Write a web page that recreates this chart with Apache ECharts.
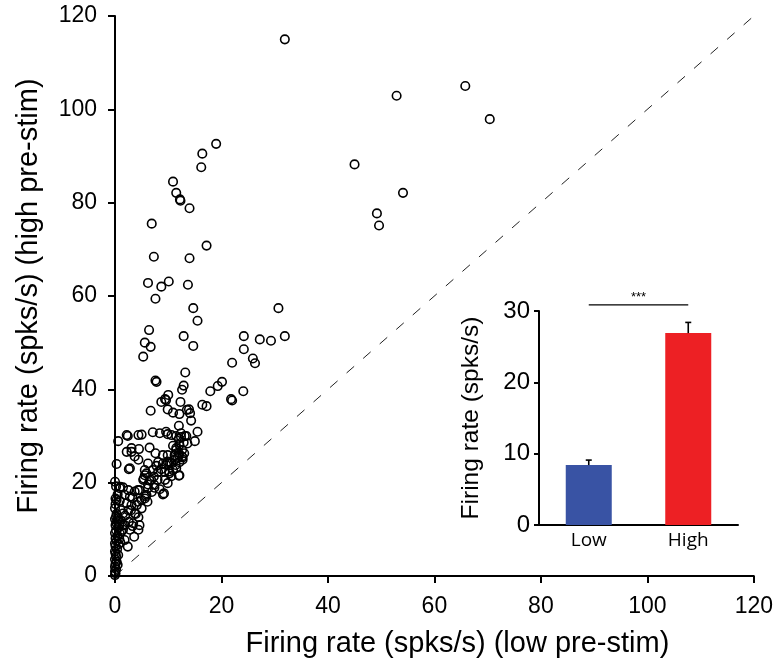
<!DOCTYPE html>
<html>
<head>
<meta charset="utf-8">
<script src="https://cdn.jsdelivr.net/npm/echarts@6/dist/echarts.min.js"></script>
<style>
html,body{margin:0;padding:0;background:#fff;}
#chart{width:776px;height:671px;}
</style>
</head>
<body>
<div id="chart"></div>
<script>
// ---- Data ----
// Scatter: firing rate at low pre-stim (x) vs high pre-stim (y), spks/s
const cellPoints = [
  [31.9,115.0],[19.0,92.6],[16.4,90.5],[16.2,87.6],[10.9,84.5],[11.5,82.1],[12.2,80.7],[12.3,80.4],[14.0,78.8],[6.9,75.5],
  [17.2,70.8],[7.3,68.4],[14.0,68.1],[6.2,62.8],[8.7,62.0],[10.1,63.1],[13.7,62.4],[7.6,59.4],[14.7,57.4],[30.7,57.4],
  [15.5,54.7],[6.4,52.7],[5.6,50.0],[6.7,49.1],[5.3,47.0],[12.9,51.4],[14.7,49.3],[24.2,51.4],[27.2,50.7],[29.3,50.4],
  [31.9,51.4],[24.2,48.6],[25.9,46.6],[26.3,45.6],[22.0,45.7],[13.2,43.6],[7.6,41.9],[7.8,41.6],[20.1,41.6],[19.3,40.7],
  [17.9,39.6],[24.1,39.6],[12.9,40.8],[12.6,39.9],[10.0,38.8],[9.4,37.9],[8.7,37.3],[12.3,37.3],[21.8,37.9],[22.0,37.6],
  [16.4,36.7],[17.2,36.4],[6.7,35.4],[9.9,35.7],[10.9,35.0],[12.1,34.7],[13.9,35.7],[14.1,34.9],[14.3,33.3],[12.0,32.2],
  [13.5,35.6],[9.6,37.7],
  [52.9,102.9],[65.8,105.0],[70.4,97.9],[45.0,88.2],[54.1,82.1],[49.2,77.7],[49.6,75.1],
  [0.6,28.9],[2.4,30.0],[2.2,30.2],[4.4,30.2],[5.0,30.3],[7.1,30.8],[8.4,30.6],[9.6,30.9],[9.9,30.4],[10.6,30.2],
  [11.5,30.0],[12.4,30.6],[12.4,29.8],[13.4,30.0],[15.5,30.9],[13.1,30.0],[12.0,29.4],[15.0,28.9],[12.9,28.6],[13.6,28.4],
  [6.5,27.5],[4.5,27.2],[10.9,27.9],[11.5,27.0],[11.5,27.4],[12.1,28.1],[12.6,27.0],[12.0,26.3],[13.0,26.3],[7.6,26.3],
  [9.0,25.9],[9.9,25.9],[12.6,25.6],[12.7,25.4],[12.0,25.9],[2.2,26.6],[3.1,26.6],[3.1,27.4],[3.7,25.6],[4.4,24.9],
  [0.3,24.0],[11.2,25.9],[11.7,25.3],[12.1,24.4],[12.7,24.9],[11.2,24.9],[10.6,24.1],[9.9,24.5],[9.0,24.1],[8.1,24.4],
  [9.6,23.8],[6.2,24.1],[11.4,23.8],[10.2,24.4],[7.8,23.6],
  [2.6,22.9],[2.8,23.1],[10.2,22.4],[9.4,20.6],[12.0,21.5],[5.9,22.0],[5.4,20.9],[6.5,20.4],[6.2,19.6],[9.0,17.5],
  [8.7,22.9],[7.1,22.7],[10.6,21.4],[9.9,19.9],[8.0,20.6],[7.4,18.9],[8.4,18.6],[6.9,18.0],[5.6,22.7],[5.3,20.6],
  [5.6,21.6],[8.1,22.3],[9.3,22.3],[10.2,22.0],[10.9,22.7],[11.5,23.1],[12.1,21.6],[7.3,21.3],[6.8,20.6],[7.4,19.5],
  [9.2,17.7],[6.2,18.8],[5.9,17.4],[5.6,16.6],[4.3,18.4],[4.6,18.4],[3.7,18.1],[2.8,17.0],[1.8,17.4],[0.9,18.8],
  [1.5,19.0],[0.1,16.6],[0.9,16.1],[0.0,20.2],[1.0,19.1],[2.5,18.4],
  [5.8,17.1],[5.0,16.3],[6.1,15.9],[4.1,15.2],[3.3,16.7],[2.2,15.6],[3.0,14.1],[3.9,13.3],[1.9,12.9],[2.6,11.6],
  [1.1,14.1],[1.5,10.9],[3.3,10.7],[3.1,15.2],[4.3,15.9],[5.0,14.5],[2.5,14.1],[3.7,13.4],[4.4,12.6],[1.5,13.4],
  [0.6,12.4],[3.4,11.3],[1.8,10.9],[2.8,9.9],[4.4,9.9],[4.6,10.9],[3.6,8.4],[1.8,7.7],[1.5,9.9],[2.4,6.3],
  [0.3,16.3],[0.0,14.5],[0.2,12.7],[0.3,11.3],[0.9,9.1],
  [0.0,0.2],[0.1,0.6],[0.0,1.0],[0.2,1.5],[0.0,2.0],[0.1,2.6],[0.3,3.1],[0.0,3.6],[0.2,4.2],[0.1,4.8],
  [0.0,5.3],[0.4,5.8],[0.1,6.4],[0.0,7.0],[0.3,7.5],[0.1,8.1],[0.5,8.6],[0.0,9.2],[0.2,9.8],[0.6,10.3],
  [0.1,10.9],[0.4,11.8],[0.0,12.2],[0.7,6.8],[0.6,4.5],[0.8,8.0],[0.5,2.4],[0.3,13.3],[0.1,15.4],[0.5,17.5],
  [0.2,19.2],[0.8,11.0],[1.0,7.2],[1.2,9.5],[1.0,12.0]
];
// Unity line
const unityLine = [[0,0],[120,120]];
// Main axis ticks
const mainTicks = [0,20,40,60,80,100,120];

// Inset bar chart
const insetCategories = ['Low','High'];
const insetMeans = [8.4, 26.9];
const insetErrors = [0.7, 1.5];
const insetColors = ['#3953A4','#ED2024'];
const insetTicks = [0,10,20,30];
const sigBracket = { from: 0, to: 1, y: 30.85, label: '***' };

// ---- Chart ----
const chart = echarts.init(document.getElementById('chart'), null, {renderer:'canvas'});
const FONT = 'Liberation Sans, Arial, sans-serif';

const errData = insetMeans.map((m,i)=>[i, m, insetErrors[i]]);

chart.setOption({
  animation: false,
  backgroundColor: '#fff',
  grid: [
    {left:115, right:19, top:16, bottom:95},
    {left:539, top:311, width:199, height:214}
  ],
  xAxis: [
    {
      type:'value', gridIndex:0, min:mainTicks[0], max:mainTicks[mainTicks.length-1], interval:20,
      axisLine:{lineStyle:{color:'#000', width:2}},
      axisTick:{length:7, lineStyle:{color:'#000', width:2}},
      axisLabel:{color:'#000', fontSize:23, fontFamily:FONT, margin:19},
      splitLine:{show:false},
      name:'Firing rate (spks/s) (low pre-stim)', nameLocation:'middle', nameGap:53,
      nameTextStyle:{color:'#000', fontSize:29, fontFamily:FONT, padding:[0,0,0,46]}
    },
    {
      type:'category', gridIndex:1, data:insetCategories,
      axisLine:{lineStyle:{color:'#000', width:2}},
      axisTick:{show:false},
      axisLabel:{color:'#000', fontSize:19, fontFamily:'Open Sans, sans-serif', margin:6}
    }
  ],
  yAxis: [
    {
      type:'value', gridIndex:0, min:mainTicks[0], max:mainTicks[mainTicks.length-1], interval:20,
      axisLine:{show:true, lineStyle:{color:'#000', width:2}},
      axisTick:{show:true, length:7, lineStyle:{color:'#000', width:2}},
      axisLabel:{color:'#000', fontSize:23, fontFamily:FONT, margin:18},
      splitLine:{show:false},
      name:'Firing rate (spks/s) (high pre-stim)', nameLocation:'middle', nameGap:72,
      nameTextStyle:{color:'#000', fontSize:29, fontFamily:FONT}
    },
    {
      type:'value', gridIndex:1, min:insetTicks[0], max:insetTicks[insetTicks.length-1], interval:10,
      axisLine:{show:true, lineStyle:{color:'#000', width:2}},
      axisTick:{show:true, length:5, lineStyle:{color:'#000', width:2}},
      axisLabel:{color:'#000', fontSize:24, fontFamily:FONT, margin:9},
      splitLine:{show:false},
      name:'Firing rate (spks/s)', nameLocation:'middle', nameGap:55,
      nameTextStyle:{color:'#000', fontSize:24.5, fontFamily:FONT}
    }
  ],
  series: [
    {
      type:'line', xAxisIndex:0, yAxisIndex:0, data:unityLine, symbol:'none', silent:true,
      lineStyle:{color:'#222', width:1, type:[10,12]}, z:1
    },
    {
      type:'scatter', xAxisIndex:0, yAxisIndex:0, data:cellPoints, symbol:'circle', symbolSize:8.5,
      itemStyle:{color:'rgba(0,0,0,0)', borderColor:'#000', borderWidth:1.6, opacity:1}, z:2
    },
    {
      type:'bar', xAxisIndex:1, yAxisIndex:1, barWidth:46,
      data: insetMeans.map((v,i)=>({value:v, itemStyle:{color:insetColors[i]}})), z:3
    },
    {
      type:'custom', xAxisIndex:1, yAxisIndex:1, data:errData, z:4,
      renderItem:function(params, api){
        const i = api.value(0), m = api.value(1), e = api.value(2);
        const p0 = api.coord([i, m]);
        const p1 = api.coord([i, m+e]);
        const st = {stroke:'#000', lineWidth:1.6};
        return {type:'group', children:[
          {type:'line', shape:{x1:p0[0], y1:p0[1], x2:p1[0], y2:p1[1]}, style:st},
          {type:'line', shape:{x1:p1[0]-3, y1:p1[1], x2:p1[0]+3, y2:p1[1]}, style:st}
        ]};
      }
    },
    {
      type:'custom', xAxisIndex:1, yAxisIndex:1, clip:false, z:4,
      data:[[sigBracket.from, sigBracket.to, sigBracket.y]],
      renderItem:function(params, api){
        const a = api.coord([api.value(0), api.value(2)]);
        const b = api.coord([api.value(1), api.value(2)]);
        return {type:'group', children:[
          {type:'line', shape:{x1:a[0], y1:a[1], x2:b[0], y2:b[1]}, style:{stroke:'#000', lineWidth:1.3}},
          {type:'text', x:(a[0]+b[0])/2, y:a[1]-1, style:{text:sigBracket.label, align:'center', verticalAlign:'bottom', fontSize:13, fontFamily:FONT, fill:'#000'}}
        ]};
      }
    }
  ]
});
</script>
</body>
</html>
